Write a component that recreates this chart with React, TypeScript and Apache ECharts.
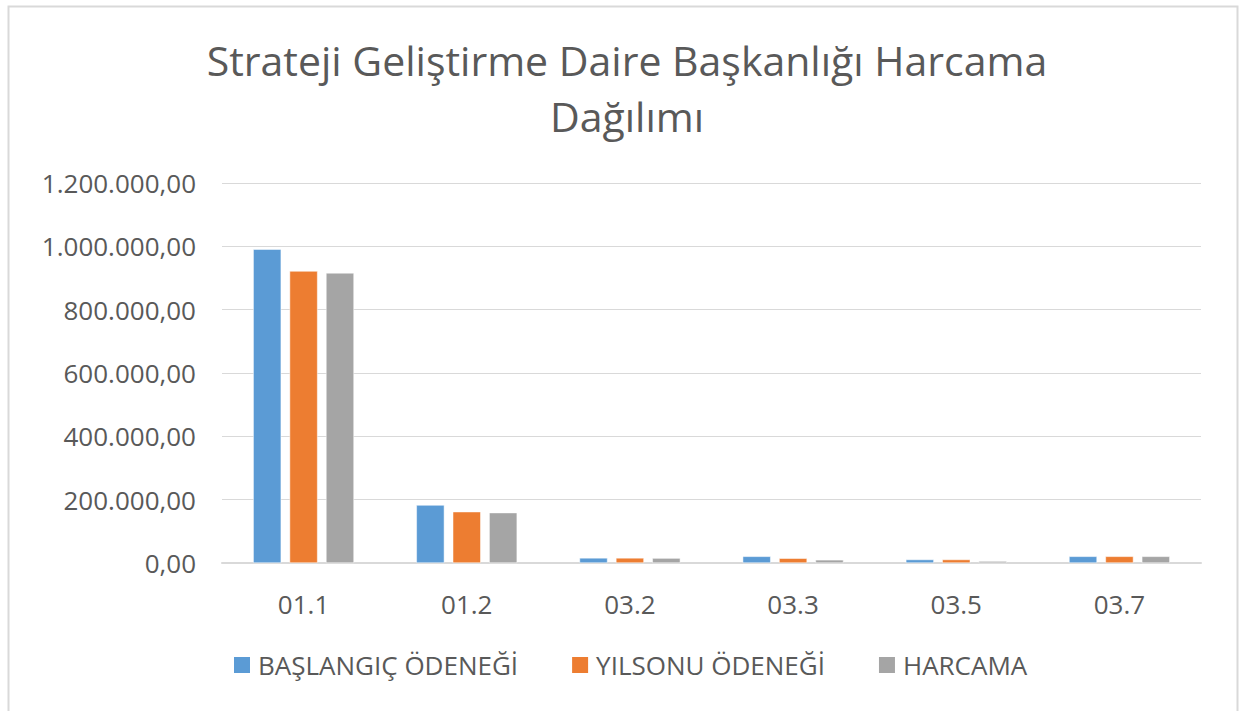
import React, { useEffect, useRef } from "react";
import * as echarts from "echarts";

const categories = ["01.1", "01.2", "03.2", "03.3", "03.5", "03.7"];
const baslangic = [991000, 183000, 16000, 21000, 11000, 21000];
const yilsonu = [922000, 162000, 16000, 15000, 11000, 21000];
const harcama = [916000, 159000, 15500, 10000, 6000, 21000];
const seriesNames = ["BAŞLANGIÇ ÖDENEĞİ", "YILSONU ÖDENEĞİ", "HARCAMA"];
const colors = ["#5b9bd5", "#ed7d31", "#a5a5a5"];

const fmt = (v: number) => {
  const s = Math.round(v).toString().replace(/\B(?=(\d{3})+(?!\d))/g, ".");
  return s + ",00";
};

export default function App() {
  const ref = useRef<HTMLDivElement>(null);
  useEffect(() => {
    if (!ref.current) return;
    const chart = echarts.init(ref.current, null, { renderer: "svg" });
    const font = "'Open Sans', 'Noto Sans', sans-serif";
    const values = [baslangic, yilsonu, harcama];
    chart.setOption({
      animation: false,
      backgroundColor: "#ffffff",
      textStyle: { fontFamily: font },
      graphic: [
        {
          type: "rect",
          shape: { x: 8.5, y: 6.5, width: 1229, height: 720 },
          style: { fill: "none", stroke: "#d9d9d9", lineWidth: 2 },
          silent: true,
        },
      ],
      title: {
        text: "Strateji Geliştirme Daire Başkanlığı Harcama\nDağılımı",
        left: 622,
        top: 27,
        textAlign: "center",
        textStyle: {
          fontFamily: font,
          fontSize: 41,
          fontWeight: "normal",
          color: "#595959",
          lineHeight: 56,
        },
      },
      legend: {
        top: 647,
        left: 227,
        itemWidth: 18,
        itemHeight: 18,
        itemGap: 52,
        icon: "rect",
        textStyle: { fontSize: 26, color: "#595959", fontFamily: font, padding: [0, 0, 0, 2] },
        data: seriesNames,
      },
      grid: { left: 222, right: 38, top: 183, bottom: 148 },
      xAxis: {
        type: "category",
        data: categories,
        axisLine: { lineStyle: { color: "#d9d9d9", width: 2 } },
        axisTick: { show: false },
        axisLabel: { fontSize: 26, color: "#595959", margin: 28 },
      },
      yAxis: {
        type: "value",
        min: 0,
        max: 1200000,
        interval: 200000,
        axisLine: { show: false },
        axisTick: { show: false },
        splitLine: { lineStyle: { color: "#d9d9d9", width: 1 } },
        axisLabel: {
          fontSize: 26,
          color: "#595959",
          margin: 26,
          formatter: (v: number) => fmt(v),
        },
      },
      series: seriesNames.map((name, i) => ({
        name,
        type: "bar",
        data: values[i],
        barWidth: 28,
        barGap: "30%",
        itemStyle: { color: colors[i], borderColor: "#ffffff", borderWidth: 0.5 },
      })),
    });
    return () => chart.dispose();
  }, []);
  return (
    <div
      ref={ref}
      style={{ position: "fixed", left: 0, top: 0, width: 1239, height: 711 }}
    />
  );
}
